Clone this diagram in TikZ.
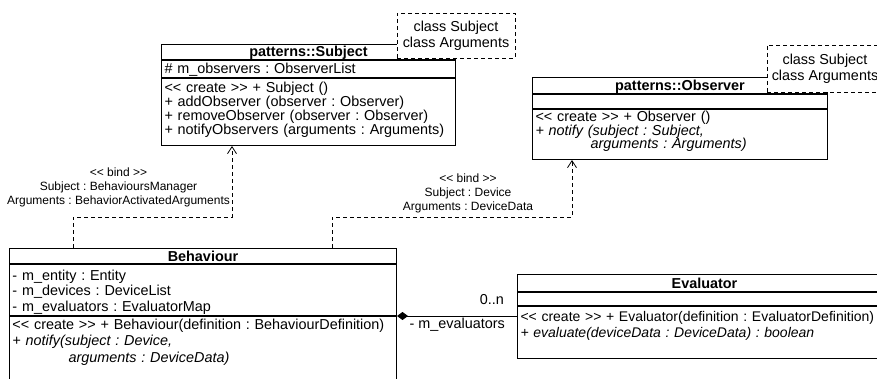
\documentclass[tikz,border=0pt]{standalone}
\usepackage{fontspec}
\setmainfont{Liberation Sans}
\usetikzlibrary{positioning, arrows.meta}
\frenchspacing

\newcommand{\stereo}[1]{<\kern0pt< #1 >\kern0pt>}
\newcommand{\umlsize}[1]{\fontsize{14.4pt}{#1}\selectfont}

\tikzset{
	umlpart/.style={draw, line width=1pt, fill=white, anchor=north west, text width=#1, align=left, inner xsep=3pt, inner ysep=0pt, font=\umlsize{14pt}},
	umltitle/.style={umlpart=#1, align=center, font=\umlsize{14pt}\bfseries},
	tmpl/.style={draw, line width=0.9pt, dash pattern=on 4pt off 3pt, fill=white, align=center, inner sep=0pt, font=\umlsize{16pt}},
	bind/.style={draw, line width=0.8pt, dash pattern=on 4pt off 3pt, -{Straight Barb[length=7pt,width=9pt]}},
	compose/.style={draw, line width=1pt, {Diamond[length=11pt,width=8pt]}-},
	bindlbl/.style={align=center, inner sep=0pt, font=\fontsize{12pt}{14pt}\selectfont},
	lbl/.style={inner sep=0pt, font=\umlsize{14pt}}
}

\begin{document}
\begin{tikzpicture}[x=1pt, y=-1pt]
	\useasboundingbox (0,0) rectangle (877,379);
	\clip (0,0) rectangle (877,379);

	\begin{scope}
		\node[umltitle=288pt, text height=12.5pt, text depth=2.5pt] (subjTitle) at (161,44) {patterns::Subject};
		\node[umlpart=288pt, text height=13.5pt, text depth=3.5pt, below=0pt of subjTitle] (subjAttr) {\# m\_observers : ObserverList};
		\node[umlpart=288pt, text height=14.5pt, text depth=52.5pt, below=0pt of subjAttr] (subjOps) {\stereo{create} + Subject ()\\+ addObserver (observer : Observer)\\+ removeObserver (observer : Observer)\\+ notifyObservers (arguments : Arguments)};
		\node[tmpl, minimum width=118pt, minimum height=45pt] (subjTmpl) at (456,35.5) {class Subject\\class Arguments};

		\node[umltitle=289pt, text height=13.5pt, text depth=2.5pt] (obsTitle) at (532,77) {patterns::Observer};
		\node[umlpart=289pt, text height=10pt, text depth=4pt, below=0pt of obsTitle] (obsAttr) {};
		\node[umlpart=289pt, font=\umlsize{13.5pt}, text height=12.5pt, text depth=37.5pt, below=0pt of obsAttr] (obsOps) {\stereo{create} + Observer ()\\\textit{+ notify (subject : Subject,}\\\hspace*{55pt}\textit{arguments : Arguments)}};
		\node[tmpl, minimum width=116pt, minimum height=47pt] (obsTmpl) at (825,68.5) {class Subject\\class Arguments};

		\node[umltitle=381pt, text height=12.5pt, text depth=2.5pt] (behTitle) at (9,248) {Behaviour};
		\node[umlpart=381pt, font=\umlsize{15.5pt}, text height=15.5pt, text depth=35.5pt, below=0pt of behTitle] (behAttr) {- m\_entity : Entity\\- m\_devices : DeviceList\\- m\_evaluators : EvaluatorMap};
		\node[umlpart=381pt, font=\umlsize{16.5pt}, text height=12.5pt, text depth=73.5pt, below=0pt of behAttr] (behOps) {\stereo{create} + Behaviour(definition : BehaviourDefinition)\\\textit{+ notify(subject : Device,}\\\hspace*{56pt}\textit{arguments : DeviceData)}};

		\node[umltitle=368pt, text height=13.5pt, text depth=3.5pt] (evalTitle) at (517,274) {Evaluator};
		\node[umlpart=368pt, text height=9pt, text depth=4pt, below=0pt of evalTitle] (evalAttr) {};
		\node[umlpart=368pt, font=\fontsize{14pt}{16pt}\selectfont, text height=14.5pt, text depth=37.5pt, below=0pt of evalAttr] (evalOps) {\stereo{create} + Evaluator(definition : EvaluatorDefinition)\\\textit{+ evaluate(deviceData : DeviceData) : boolean}};
	\end{scope}

	\begin{scope}
		\node[bindlbl] (bindSubj) at (118.5,187) {\stereo{bind}\\Subject : BehavioursManager\\Arguments : BehaviorActivatedArguments};
		\node[bindlbl] (bindObs) at (468,193) {\stereo{bind}\\Subject : Device\\Arguments : DeviceData};
		\node[lbl, anchor=east] (evalMult) at (504,300) {0..n};
		\node[lbl, anchor=east] (evalRole) at (505,325) {- m\_evaluators};
	\end{scope}

	\begin{scope}
		\path[bind] ([xshift=64pt]behTitle.north west) -- ++(0,-31) -| ([xshift=71pt]subjOps.south west);
		\path[bind] ([xshift=323pt]behTitle.north west) -- ++(0,-31) -| ([xshift=40pt]obsOps.south west);
		\path[compose] (behOps.north east) -- (behOps.north east -| evalOps.west);
	\end{scope}
\end{tikzpicture}
\end{document}
